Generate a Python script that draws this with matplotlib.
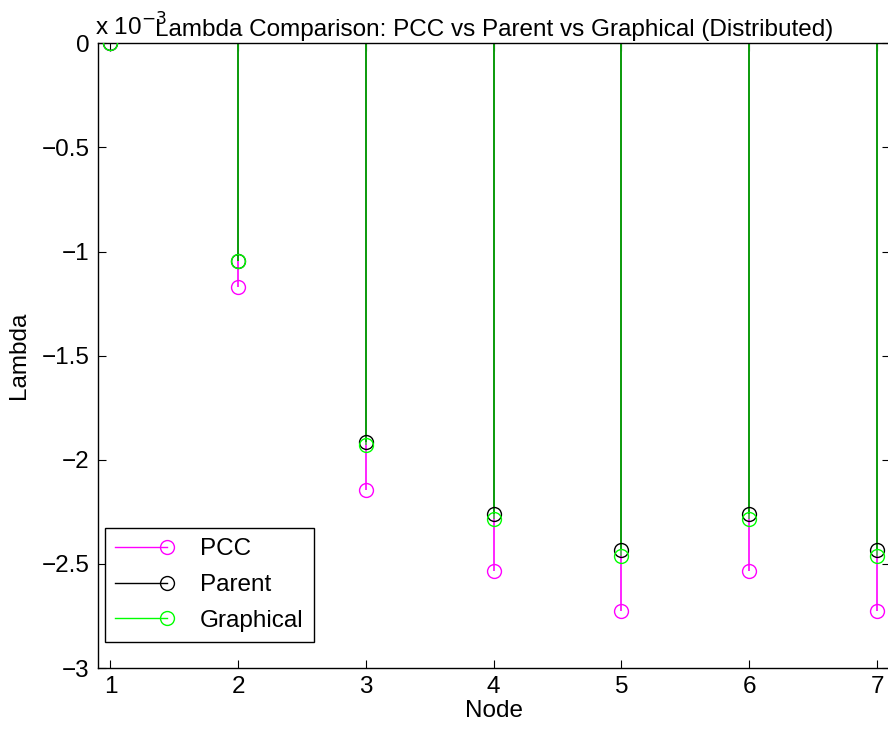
import numpy as np
import matplotlib
matplotlib.use("Agg")
import matplotlib.pyplot as plt
from matplotlib.lines import Line2D
from matplotlib.legend_handler import HandlerBase
from matplotlib.ticker import FuncFormatter

plt.rcParams['font.family'] = ['Liberation Sans', 'DejaVu Sans']

# values in units of 1e-3
nodes = [1, 2, 3, 4, 5, 6, 7]
pcc = [0, -1.17, -2.145, -2.535, -2.727, -2.535, -2.727]
parent = [0, -1.045, -1.915, -2.261, -2.434, -2.261, -2.434]
graphical = [0, -1.047, -1.93, -2.285, -2.463, -2.285, -2.463]

ms = 10
fs = 17.5


class StemHandler(HandlerBase):
    # line with the marker at its right end, like a MATLAB stem legend entry
    def create_artists(self, legend, orig, xdescent, ydescent, width, height,
                       fontsize, trans):
        y = (height - ydescent) / 2
        col = orig.get_color()
        ln = Line2D([-xdescent, width - xdescent - 6], [y, y], color=col, lw=1.0,
                    transform=trans)
        mk = Line2D([width - xdescent - 6], [y], marker='o', mfc='none', mec=col,
                    ms=ms, ls='none', transform=trans)
        return [ln, mk]


fig = plt.figure(figsize=(8.88, 7.35), dpi=100)
ax = fig.add_axes([0.110, 0.091, 0.892, 0.850])

series = [(pcc, '#ff00ff', 1.0),
          (parent, 'black', 1.0),
          (graphical, '#00ff00', 0.72)]
for vals, col, a in series:
    ax.vlines(nodes, 0, vals, colors=col, linewidth=1.2, alpha=a, zorder=2)
for vals, col, a in series:
    ax.plot(nodes, vals, 'o', mfc='none', mec=col, ms=ms, mew=1.0, zorder=3)

ax.set_xlim(0.9, 7.1)
ax.set_ylim(-3, 0)
ax.set_xticks(nodes)
ax.set_yticks([0, -0.5, -1, -1.5, -2, -2.5, -3])
ax.yaxis.set_major_formatter(FuncFormatter(lambda v, p: '{:g}'.format(v).replace('-', '\u2212')))
ax.tick_params(direction='in', length=6, width=0.8, top=True, right=True,
               labelsize=fs, pad=6)
for s in ax.spines.values():
    s.set_linewidth(1.0)

ax.set_xlabel('Node', fontsize=fs, labelpad=1)
ax.set_ylabel('Lambda', fontsize=fs, labelpad=8)
ax.set_title('Lambda Comparison: PCC vs Parent vs Graphical (Distributed)',
             fontsize=fs, pad=5)
ax.text(-0.003, 1.004, 'x 10$^{-3}$', transform=ax.transAxes, fontsize=fs,
        ha='left', va='bottom', zorder=1)

handles = [Line2D([0], [0], color=c) for c in ['#ff00ff', 'black', '#00ff00']]
leg = ax.legend(handles, ['PCC', 'Parent', 'Graphical'], loc='lower left',
                bbox_to_anchor=(0.009, 0.042), borderaxespad=0,
                handler_map={Line2D: StemHandler()},
                fontsize=fs, fancybox=False, edgecolor='black',
                framealpha=1, handlelength=2.5, borderpad=0.42,
                labelspacing=0.56, handletextpad=1.0)
leg.get_frame().set_linewidth(1.0)

fig.savefig('out.png', dpi=100)
